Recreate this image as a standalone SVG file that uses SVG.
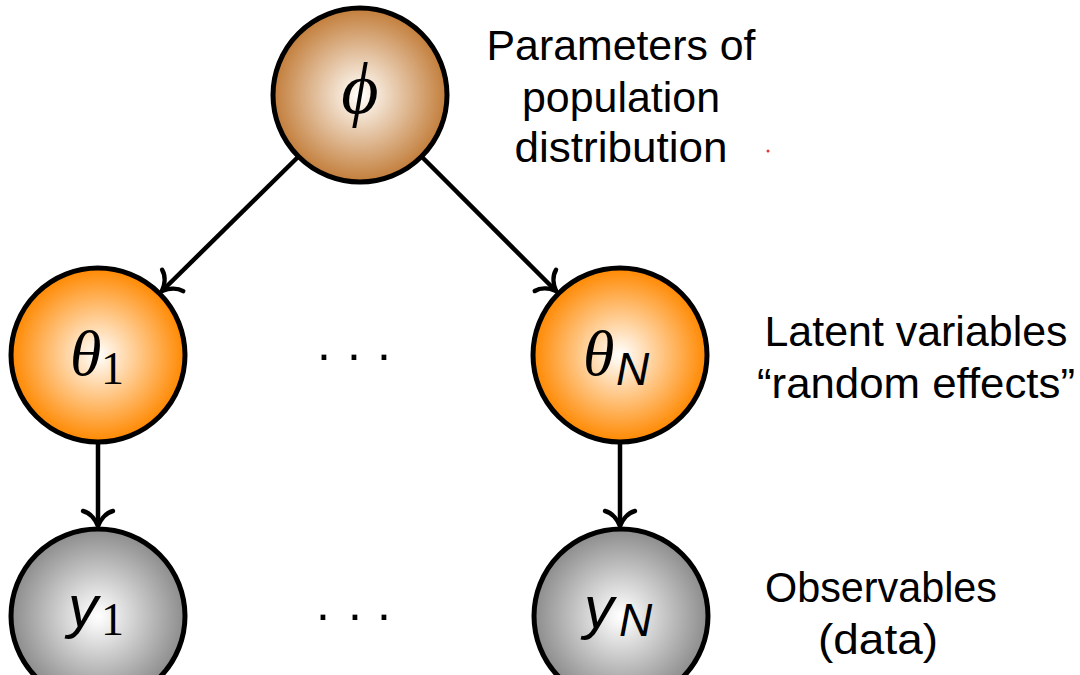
<svg xmlns="http://www.w3.org/2000/svg" width="1080" height="675" viewBox="0 0 1080 675">
<style>
.node{stroke:#000;stroke-width:5}
.lbl{font-family:"Liberation Sans",Arial,sans-serif;font-size:42px;fill:#000;text-anchor:middle}
.edge{stroke:#000;stroke-width:4.5;fill:none;marker-end:url(#to)}
.mi{font-family:"Liberation Serif","DejaVu Serif",serif;font-style:italic;fill:#000}
.ms{font-family:"Liberation Sans",Arial,sans-serif;font-style:italic;fill:#000}
.mr{font-family:"Liberation Serif","DejaVu Serif",serif;font-style:normal;fill:#000}
.dots{font-family:"Liberation Sans",Arial,sans-serif;font-size:50px;fill:#000}
</style>
<defs>
<radialGradient id="gPhi" cx="50%" cy="50%" r="50%">
<stop offset="0" stop-color="#ffffff"/>
<stop offset="0.1" stop-color="#fbf3ea"/>
<stop offset="1" stop-color="#c27d3a"/>
</radialGradient>
<radialGradient id="gTheta" cx="50%" cy="50%" r="50%">
<stop offset="0" stop-color="#ffffff"/>
<stop offset="0.1" stop-color="#fff4e6"/>
<stop offset="1" stop-color="#ff8800"/>
</radialGradient>
<radialGradient id="gY" cx="50%" cy="50%" r="50%">
<stop offset="0" stop-color="#ffffff"/>
<stop offset="0.1" stop-color="#f6f6f6"/>
<stop offset="1" stop-color="#8c8c8c"/>
</radialGradient>
<marker id="to" markerUnits="userSpaceOnUse" markerWidth="40" markerHeight="40" viewBox="-20 -20 40 40" refX="0" refY="0" orient="auto">
<path d="M -15 -15 C -13 -7 -5 -2 0 0 C -5 2 -13 7 -15 15" fill="none" stroke="#000" stroke-width="4.5" stroke-linecap="round"/>
</marker>
</defs>
<g id="connectors">
<line class="edge" x1="298" y1="157" x2="162" y2="291"/>
<line class="edge" x1="422" y1="157" x2="556" y2="291"/>
<line class="edge" x1="98" y1="443" x2="98" y2="526"/>
<line class="edge" x1="620" y1="443" x2="620" y2="526"/>
</g>
<g id="phi">
<circle class="node" cx="360" cy="95" r="87" fill="url(#gPhi)"/>
<text class="mi" x="360" y="113" font-size="72" text-anchor="middle">ϕ</text>
</g>
<g id="theta1">
<circle class="node" cx="98" cy="355" r="87" fill="url(#gTheta)"/>
<text class="mi" x="70" y="375" font-size="64">θ<tspan class="mr" x="101" y="384" font-size="46">1</tspan></text>
</g>
<g id="thetaN">
<circle class="node" cx="620" cy="355" r="87" fill="url(#gTheta)"/>
<text class="mi" x="583" y="375" font-size="64">θ<tspan class="ms" x="616" y="385" font-size="46">N</tspan></text>
</g>
<g id="y1">
<circle class="node" cx="98" cy="616" r="87" fill="url(#gY)"/>
<text class="ms" x="68" y="627" font-size="60">y<tspan class="mr" x="101" y="635" font-size="46">1</tspan></text>
</g>
<g id="yN">
<circle class="node" cx="621" cy="616" r="87" fill="url(#gY)"/>
<text class="ms" x="584" y="628" font-size="60">y<tspan x="619" y="636" font-size="46">N</tspan></text>
</g>
<g id="dots">
<text class="dots" x="317 347 377" y="360">...</text>
<text class="dots" x="316 348 377" y="620">...</text>
</g>
<g id="labels">
<text class="lbl" x="621" y="60" textLength="269" lengthAdjust="spacingAndGlyphs">Parameters of</text>
<text class="lbl" x="621" y="112" textLength="198" lengthAdjust="spacingAndGlyphs">population</text>
<text class="lbl" x="621" y="162" textLength="213" lengthAdjust="spacingAndGlyphs">distribution</text>
<text class="lbl" x="916" y="346" textLength="303" lengthAdjust="spacingAndGlyphs">Latent variables</text>
<text class="lbl" x="916" y="398" textLength="318" lengthAdjust="spacingAndGlyphs">“random effects”</text>
<text class="lbl" x="881" y="602" textLength="232" lengthAdjust="spacingAndGlyphs">Observables</text>
<text class="lbl" x="878" y="654" textLength="120" lengthAdjust="spacingAndGlyphs">(data)</text>
</g>
<circle cx="768" cy="151" r="1.5" fill="#e63333"/>
</svg>
